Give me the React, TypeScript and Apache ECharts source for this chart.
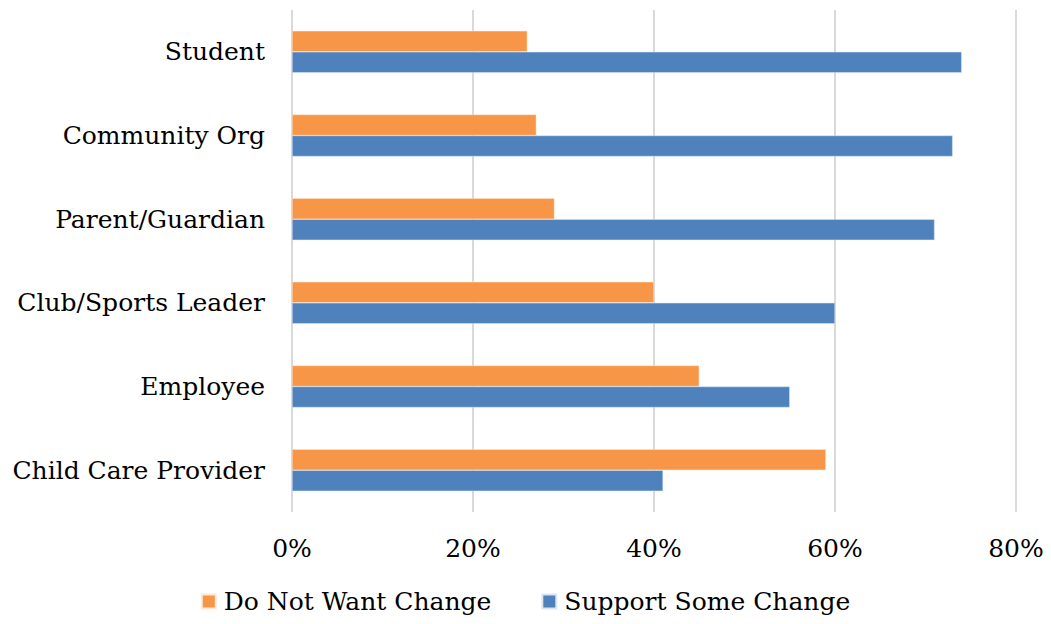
import React, { useEffect, useRef } from "react";
import * as echarts from "echarts";

const categories = ["Child Care Provider", "Employee", "Club/Sports Leader", "Parent/Guardian", "Community Org", "Student"];
const doNotWant = [59, 45, 40, 29, 27, 26];
const supportSome = [41, 55, 60, 71, 73, 74];
const xTicks = [0, 20, 40, 60, 80];

const FONT = "'DejaVu Serif', serif";

export default function App() {
  const ref = useRef<HTMLDivElement>(null);
  useEffect(() => {
    const chart = echarts.init(ref.current!, null, { renderer: "svg" });
    chart.setOption({
      animation: false,
      textStyle: { fontFamily: FONT },
      grid: { left: 292, right: 35, top: 10, bottom: 112, containLabel: false },
      legend: {
        bottom: 5,
        left: "center",
        itemWidth: 14,
        itemHeight: 14,
        itemGap: 50,
        textStyle: { fontFamily: FONT, fontSize: 25, color: "#000", padding: [0, 0, 0, 3] },
        data: [
          { name: "Do Not Want Change", icon: "rect" },
          { name: "Support Some Change", icon: "rect" },
        ],
      },
      xAxis: {
        type: "value",
        min: xTicks[0],
        max: xTicks[xTicks.length - 1],
        interval: 20,
        axisLine: { show: false },
        axisTick: { show: false },
        splitLine: { lineStyle: { color: "#d9d9d9", width: 2 } },
        axisLabel: {
          formatter: (v: number) => v + "%",
          fontFamily: FONT,
          fontSize: 25,
          color: "#000",
          margin: 24,
        },
      },
      yAxis: {
        type: "category",
        data: categories,
        axisLine: { show: false },
        axisTick: { show: false },
        axisLabel: { fontFamily: FONT, fontSize: 25, color: "#000", margin: 27 },
      },
      series: [
        {
          name: "Do Not Want Change",
          type: "bar",
          data: doNotWant,
          barWidth: 21,
          barGap: "0%",
          itemStyle: { color: "#f79646", borderColor: "#fde9d9", borderWidth: 0.5 },
        },
        {
          name: "Support Some Change",
          type: "bar",
          data: supportSome,
          barWidth: 21,
          barGap: "0%",
          itemStyle: { color: "#4f81bd", borderColor: "#dce6f2", borderWidth: 0.5 },
        },
      ],
    });
    return () => chart.dispose();
  }, []);
  return <div ref={ref} style={{ position: "absolute", left: 0, top: 0, width: 1051, height: 624 }} />;
}
